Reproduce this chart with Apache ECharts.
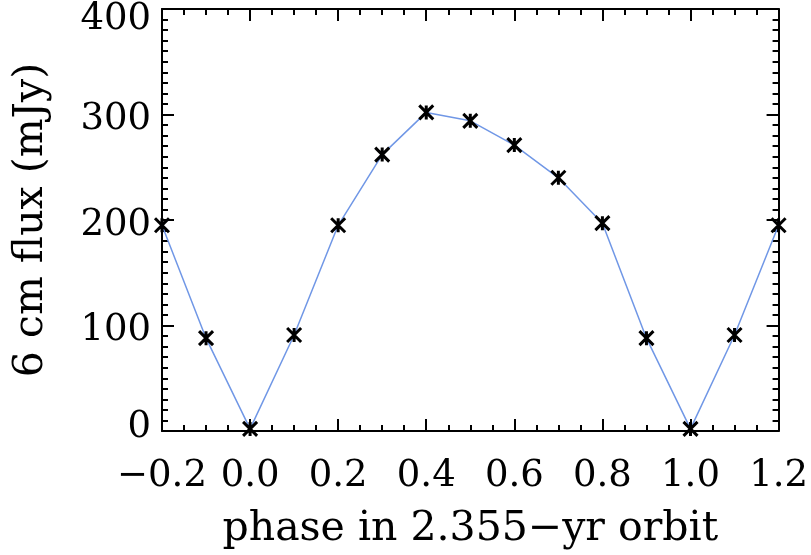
<!DOCTYPE html>
<html>
<head>
<meta charset="utf-8">
<script src="https://cdn.jsdelivr.net/npm/echarts@6/dist/echarts.min.js"></script>
<style>
  html, body { margin: 0; padding: 0; background: #fff; }
  #chart { width: 811px; height: 555px; }
</style>
</head>
<body>
<div id="chart"></div>
<script>
// Orbital phase of each measurement (repeated beyond 0..1 for clarity)
const phase = [-0.2, -0.1, 0.0, 0.1, 0.2, 0.3, 0.4, 0.5, 0.6, 0.7, 0.8, 0.9, 1.0, 1.1, 1.2];
// 6 cm flux density in mJy
const flux = [195, 88, 2, 91, 195, 262, 302, 294, 271, 240, 197, 88, 2, 91, 195];
// Axis tick values
const xTicks = [-0.2, 0.0, 0.2, 0.4, 0.6, 0.8, 1.0, 1.2];
const yTicks = [0, 100, 200, 300, 400];

const FONT = 'DejaVu Serif';
const TICK_SIZE = 37;
const TITLE_SIZE = 41;
const points = phase.map((p, i) => [p, flux[i]]);

// Asterisk marker: an X crossed by a vertical bar
const asterisk = 'path://M0,0L10,10M10,0L0,10M5,0L5,10';

const boxAxis = {
  axisLine: { show: true, onZero: false, lineStyle: { color: '#000', width: 2 } },
  axisTick: { show: true, inside: true, length: 12, lineStyle: { color: '#000', width: 2 } },
  minorTick: { show: true, length: 6, lineStyle: { color: '#000', width: 2 } },
  splitLine: { show: false }
};

const xCommon = Object.assign({
  type: 'value', min: xTicks[0], max: xTicks[xTicks.length - 1], interval: 0.2
}, boxAxis);
xCommon.minorTick = Object.assign({ splitNumber: 4 }, boxAxis.minorTick);

const yCommon = Object.assign({
  type: 'value', min: yTicks[0], max: yTicks[yTicks.length - 1], interval: 100
}, boxAxis);
yCommon.minorTick = Object.assign({ splitNumber: 10 }, boxAxis.minorTick);

const labelFont = { fontFamily: FONT, fontSize: TICK_SIZE, color: '#000' };

const chart = echarts.init(document.getElementById('chart'), null, { renderer: 'canvas' });
chart.setOption({
  backgroundColor: '#fff',
  animation: false,
  grid: { left: 162, right: 31, top: 9, bottom: 112, containLabel: false },
  xAxis: [
    Object.assign({}, xCommon, {
      position: 'bottom',
      name: 'phase in 2.355\u2212yr orbit',
      nameLocation: 'middle',
      nameGap: 78,
      nameTextStyle: { fontFamily: FONT, fontSize: TITLE_SIZE, color: '#000' },
      axisLabel: Object.assign({
        show: true, margin: 27,
        formatter: v => (v < 0 ? '\u2212' : '') + Math.abs(v).toFixed(1)
      }, labelFont)
    }),
    Object.assign({}, xCommon, { position: 'top', axisLabel: { show: false } })
  ],
  yAxis: [
    Object.assign({}, yCommon, {
      position: 'left',
      name: '6 cm flux (mJy)',
      nameLocation: 'middle',
      nameGap: 110,
      nameRotate: 90,
      nameTextStyle: { fontFamily: FONT, fontSize: TITLE_SIZE, color: '#000' },
      axisLabel: Object.assign({
        show: true, margin: 11,
        formatter: v => v === 400 ? '{t|' + v + '}' : (v === 0 ? '{b|' + v + '}' : '{m|' + v + '}'),
        rich: {
          t: Object.assign({ padding: [20, 0, 0, 0] }, labelFont),
          m: Object.assign({ padding: [10, 0, 0, 0] }, labelFont),
          b: Object.assign({ padding: [0, 0, 8, 0] }, labelFont)
        }
      }, labelFont)
    }),
    Object.assign({}, yCommon, { position: 'right', axisLabel: { show: false } })
  ],
  series: [{
    type: 'line',
    data: points,
    xAxisIndex: 0,
    yAxisIndex: 0,
    clip: false,
    lineStyle: { color: '#7097e6', width: 1.5 },
    symbol: asterisk,
    symbolSize: 14,
    showAllSymbol: true,
    itemStyle: { color: 'rgba(0,0,0,0)', borderColor: '#000', borderWidth: 3 },
    z: 3
  }]
});
</script>
</body>
</html>
